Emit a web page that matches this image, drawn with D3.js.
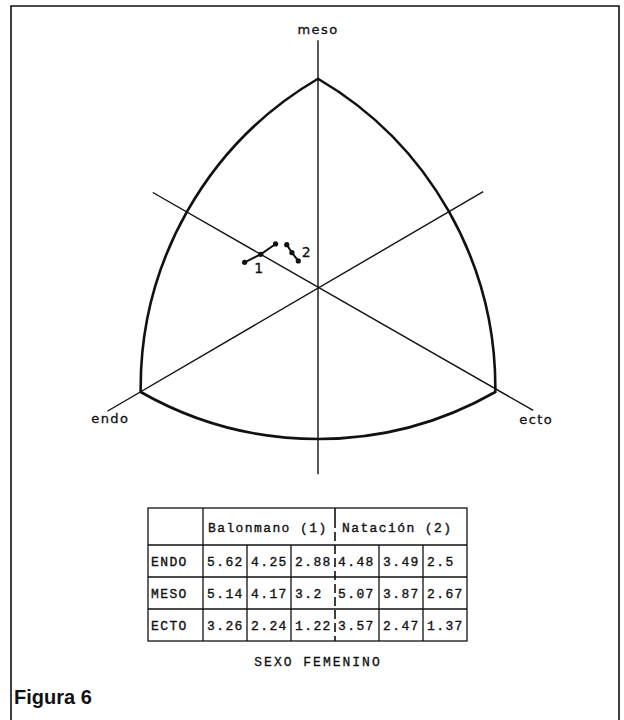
<!DOCTYPE html>
<html>
<head>
<meta charset="utf-8">
<script src="https://cdn.jsdelivr.net/npm/d3@7"></script>
<style>
  html, body { margin: 0; padding: 0; background: #fff; }
  svg { display: block; }
</style>
</head>
<body>
<script>
// Somatochart coordinates: X = ecto - endo, Y = 2*meso - (endo + ecto)
const boundaryVertices = [
  { name: "endo", X: -5.85, Y: -6 },
  { name: "ecto", X: 5.85, Y: -6 },
  { name: "meso", X: 0, Y: 11.9 }
];
const axisSegments = [
  { label: "meso", from: [0, -10.7], to: [0, 14.1] },
  { label: "endo", from: [5.45, 5.45], to: [-6.95, -7.1] },
  { label: "ecto", from: [-5.45, 5.4], to: [7.1, -7.05] }
];
// Plotted somatopoints (upper SD, mean, lower SD) for each group
const balonmanoPoints = [
  { X: -2.42, Y: 1.41 },
  { X: -1.89, Y: 1.87 },
  { X: -1.40, Y: 2.46 }
];
const natacionPoints = [
  { X: -1.03, Y: 2.42 },
  { X: -0.86, Y: 1.96 },
  { X: -0.65, Y: 1.49 }
];

// Table contents
const groupHeaders = ["Balonmano (1)", "Natación (2)"];
const rowLabels = ["ENDO", "MESO", "ECTO"];
const balonmanoValues = [
  [5.62, 4.25, 2.88],
  [5.14, 4.17, 3.2],
  [3.26, 2.24, 1.22]
];
const natacionValues = [
  [4.48, 3.49, 2.5],
  [5.07, 3.87, 2.67],
  [3.57, 2.47, 1.37]
];
const subtitle = "SEXO FEMENINO";
const figureTitle = "Figura 6";

const W = 624, H = 720;
const svg = d3.select("body").append("svg")
  .attr("width", W).attr("height", H);

// Frame (open at the bottom)
svg.append("path")
  .attr("d", `M11,${H} V6 H619 V${H}`)
  .attr("fill", "none").attr("stroke", "#111").attr("stroke-width", 1.6);

// Scales: one Y unit is 1/sqrt(3) of an X unit so the axes meet at 120°
const cx = 318, cy = 287, sy = 17.5, sx = sy * Math.sqrt(3);
const x = d3.scaleLinear().domain([-8, 8]).range([cx - 8 * sx, cx + 8 * sx]);
const y = d3.scaleLinear().domain([-12, 16]).range([cy + 12 * sy, cy - 16 * sy]);

const chart = svg.append("g");

// Axes
chart.selectAll("line.axis").data(axisSegments).join("line")
  .attr("class", "axis")
  .attr("x1", d => x(d.from[0])).attr("y1", d => y(d.from[1]))
  .attr("x2", d => x(d.to[0])).attr("y2", d => y(d.to[1]))
  .attr("stroke", "#111").attr("stroke-width", 1.4);

// Curved triangular boundary: each side is an arc centred on the opposite vertex
const vp = boundaryVertices.map(v => [x(v.X), y(v.Y)]);
const r = d3.mean([[0, 1], [1, 2], [2, 0]],
  ([a, b]) => Math.hypot(vp[b][0] - vp[a][0], vp[b][1] - vp[a][1]));
const boundary = `M${vp[0][0]},${vp[0][1]}` +
  ` A${r},${r} 0 0 0 ${vp[1][0]},${vp[1][1]}` +
  ` A${r},${r} 0 0 0 ${vp[2][0]},${vp[2][1]}` +
  ` A${r},${r} 0 0 0 ${vp[0][0]},${vp[0][1]}Z`;
chart.append("path").attr("d", boundary)
  .attr("fill", "none").attr("stroke", "#111").attr("stroke-width", 2.6)
  .attr("stroke-linejoin", "miter");

// Axis labels
const labelFont = "'DejaVu Sans', sans-serif";
const axisLabelPos = {
  meso: d => [x(d.to[0]), y(d.to[1]) - 6],
  endo: d => [x(d.to[0]) + 3, y(d.to[1]) + 12],
  ecto: d => [x(d.to[0]) + 3, y(d.to[1]) + 14]
};
chart.selectAll("text.axis-label").data(axisSegments).join("text")
  .attr("class", "axis-label")
  .attr("x", d => axisLabelPos[d.label](d)[0])
  .attr("y", d => axisLabelPos[d.label](d)[1])
  .attr("text-anchor", "middle")
  .attr("font-family", labelFont).attr("font-size", 13)
  .attr("letter-spacing", 1.4)
  .attr("fill", "#111").attr("stroke", "#111").attr("stroke-width", 0.3)
  .text(d => d.label);

// Somatopoint series
const line = d3.line().x(d => x(d.X)).y(d => y(d.Y));
const series = [
  { id: "1", points: balonmanoPoints, labelAt: 0, dx: 14, dy: 11 },
  { id: "2", points: natacionPoints, labelAt: 2, dx: 8, dy: -4 }
];
series.forEach(s => {
  const g = chart.append("g");
  g.append("path").attr("d", line(s.points))
    .attr("fill", "none").attr("stroke", "#111").attr("stroke-width", 2);
  g.selectAll("circle").data(s.points).join("circle")
    .attr("cx", d => x(d.X)).attr("cy", d => y(d.Y)).attr("r", 2.6)
    .attr("fill", "#111");
  const p = s.points[s.labelAt];
  g.append("text")
    .attr("x", x(p.X) + s.dx).attr("y", y(p.Y) + s.dy)
    .attr("text-anchor", "middle")
    .attr("font-family", labelFont).attr("font-size", 14)
    .attr("fill", "#111").attr("stroke", "#111").attr("stroke-width", 0.3)
    .text(s.id);
});

// Table
const tableFont = "'Liberation Mono', 'DejaVu Sans Mono', monospace";
const tLeft = 148, tLabelRight = 203, tRight = 467;
const tTop = 508, tHeaderBottom = 545, tBottom = 641;
const colScale = d3.scaleBand().domain(d3.range(6)).range([tLabelRight, tRight]);
const rowScale = d3.scaleBand().domain(rowLabels).range([tHeaderBottom, tBottom]);
const table = svg.append("g").attr("stroke", "#111").attr("stroke-width", 1.3);

// Outer border and horizontal rules
table.append("rect").attr("x", tLeft).attr("y", tTop)
  .attr("width", tRight - tLeft).attr("height", tBottom - tTop).attr("fill", "none");
table.selectAll("line.hrule").data(rowLabels).join("line")
  .attr("class", "hrule")
  .attr("x1", tLeft).attr("x2", tRight)
  .attr("y1", d => rowScale(d)).attr("y2", d => rowScale(d));
// Label column rule
table.append("line").attr("x1", tLabelRight).attr("x2", tLabelRight)
  .attr("y1", tTop).attr("y2", tBottom);
// Cell rules inside each group (data rows only)
table.selectAll("line.vrule").data([1, 2, 4, 5]).join("line")
  .attr("class", "vrule")
  .attr("x1", d => colScale(d)).attr("x2", d => colScale(d))
  .attr("y1", tHeaderBottom).attr("y2", tBottom);
// Group divider: solid through the header, dashed through the data rows
table.append("line").attr("x1", colScale(3)).attr("x2", colScale(3))
  .attr("y1", tTop).attr("y2", tTop + 20).attr("stroke-width", 1.6);
table.append("line").attr("x1", colScale(3)).attr("x2", colScale(3))
  .attr("y1", tTop + 24).attr("y2", tBottom)
  .attr("stroke-width", 1.6).attr("stroke-dasharray", "9,4");

const textG = svg.append("g")
  .attr("font-family", tableFont).attr("font-size", 13)
  .attr("letter-spacing", 1.4).attr("fill", "#111")
  .attr("stroke", "#111").attr("stroke-width", 0.35);

textG.selectAll("text.group").data(groupHeaders).join("text")
  .attr("class", "group")
  .attr("x", (d, i) => colScale(i * 3) + (i === 0 ? 5 : 7))
  .attr("y", tHeaderBottom - 13)
  .text(d => d);

textG.selectAll("text.rowlabel").data(rowLabels).join("text")
  .attr("class", "rowlabel")
  .attr("x", tLeft + 3)
  .attr("y", d => rowScale(d) + rowScale.bandwidth() / 2 + 5)
  .text(d => d);

const cells = [];
rowLabels.forEach((rl, ri) => {
  balonmanoValues[ri].forEach((v, ci) => cells.push({ row: rl, col: ci, v }));
  natacionValues[ri].forEach((v, ci) => cells.push({ row: rl, col: ci + 3, v }));
});
textG.selectAll("text.cell").data(cells).join("text")
  .attr("class", "cell")
  .attr("x", d => colScale(d.col) + (d.col === 3 ? 3 : 4))
  .attr("y", d => rowScale(d.row) + rowScale.bandwidth() / 2 + 5)
  .text(d => String(d.v));

// Caption under the table
svg.append("text")
  .attr("x", 318).attr("y", 666)
  .attr("text-anchor", "middle")
  .attr("font-family", tableFont).attr("font-size", 13)
  .attr("letter-spacing", 2).attr("fill", "#111")
  .attr("stroke", "#111").attr("stroke-width", 0.3)
  .text(subtitle);

// Figure title
svg.append("text")
  .attr("x", 14).attr("y", 704)
  .attr("font-family", "'Liberation Sans', Arial, sans-serif")
  .attr("font-weight", "bold").attr("font-size", 20)
  .attr("fill", "#111")
  .text(figureTitle);
</script>
</body>
</html>
